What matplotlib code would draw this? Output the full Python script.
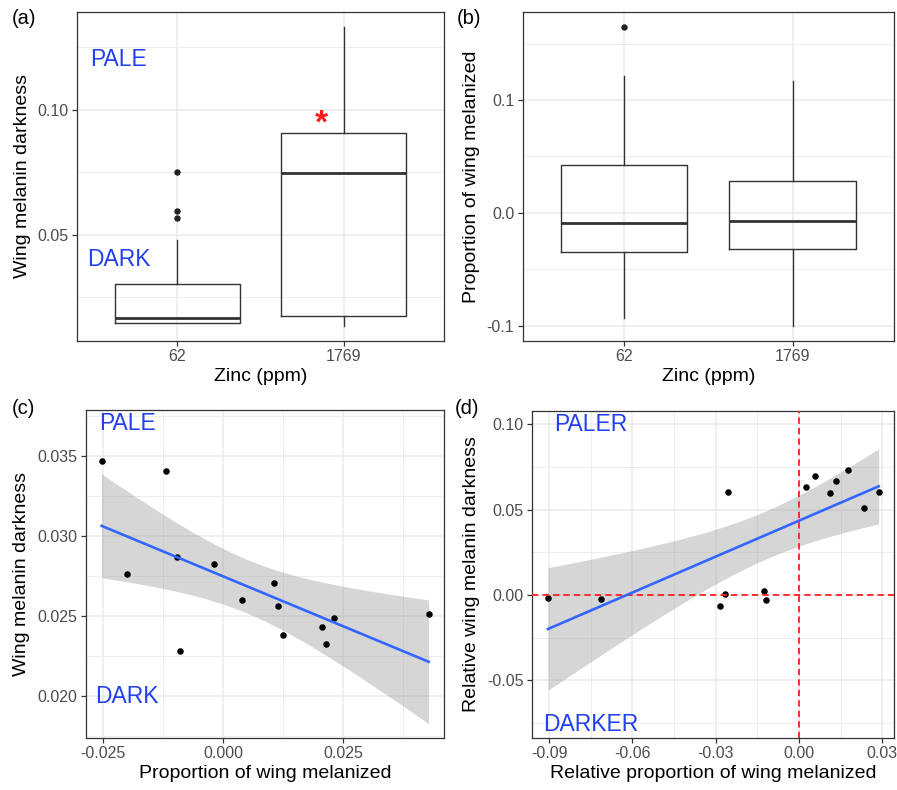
import numpy as np
import matplotlib
matplotlib.use("Agg")
import matplotlib.pyplot as plt
from matplotlib.ticker import FixedLocator

plt.rcParams['font.family'] = ['Liberation Sans', 'DejaVu Sans']

# ---------------- data ----------------
zinc_levels = ["62", "1769"]

# (a) wing melanin darkness box stats
a_q1 = [0.0149, 0.0175]
a_med = [0.0166, 0.0748]
a_q3 = [0.0303, 0.0908]
a_whislo = [0.0148, 0.0136]
a_whishi = [0.0480, 0.1333]
a_fliers = [[0.0751, 0.0597, 0.0567], []]

# (b) proportion of wing melanized box stats
b_q1 = [-0.0346, -0.0322]
b_med = [-0.0089, -0.0071]
b_q3 = [0.0426, 0.0278]
b_whislo = [-0.0936, -0.1000]
b_whishi = [0.1212, 0.1168]
b_fliers = [[0.1649], []]

# (c) scatter
c_x = [-0.02535, -0.01194, -0.02000, -0.00958, -0.00194, -0.00896, 0.00382,
       0.01049, 0.01146, 0.01243, 0.02049, 0.02132, 0.02313, 0.04278]
c_y = [0.03469, 0.03404, 0.02761, 0.02867, 0.02823, 0.02282, 0.02600,
       0.02707, 0.02567, 0.02384, 0.02434, 0.02328, 0.02488, 0.02517]

# (d) scatter
d_x = [-0.09045, -0.07135, -0.02859, -0.02655, -0.02546, -0.01249, -0.01201,
       0.00240, 0.00565, 0.01117, 0.01321, 0.01778, 0.02342, 0.02871]
d_y = [-0.00176, -0.00234, -0.00644, 0.00059, 0.06027, 0.00234, -0.00293,
       0.06340, 0.06984, 0.05989, 0.06672, 0.07335, 0.05091, 0.06027]

T975 = 2.1788  # t quantile, df = 12

# ---------------- style ----------------
GRID = '#EBEBEB'
DARK = '#333333'
TICKC = '#4D4D4D'
BLUE_TXT = '#2340F0'
LINE_BLUE = '#3366FF'
TICK_FS = 11.5
LAB_FS = 14
ANN_FS = 16.5

fig = plt.figure(figsize=(8.97, 7.9), dpi=100)


def style_axes(ax, xmaj, xmin, ymaj, ymin):
    ax.set_facecolor('white')
    for s in ax.spines.values():
        s.set_color(DARK)
        s.set_linewidth(0.9)
    ax.xaxis.set_major_locator(FixedLocator(xmaj))
    ax.yaxis.set_major_locator(FixedLocator(ymaj))
    for v in ymin:
        ax.axhline(v, color=GRID, lw=0.6, zorder=0)
    for v in xmin:
        ax.axvline(v, color=GRID, lw=0.6, zorder=0)
    for v in ymaj:
        ax.axhline(v, color=GRID, lw=1.1, zorder=0)
    for v in xmaj:
        ax.axvline(v, color=GRID, lw=1.1, zorder=0)
    ax.tick_params(axis='both', colors=DARK, labelcolor=TICKC, labelsize=TICK_FS,
                   length=3.5, width=0.9, pad=2.5)


def draw_box(ax, q1, med, q3, lo, hi, fl):
    stats = []
    for i in range(len(q1)):
        stats.append(dict(q1=q1[i], med=med[i], q3=q3[i], whislo=lo[i],
                          whishi=hi[i], fliers=fl[i]))
    ax.bxp(stats, positions=[1, 2], widths=0.75, showcaps=False,
           boxprops=dict(color=DARK, lw=1.0),
           whiskerprops=dict(color=DARK, lw=1.0),
           medianprops=dict(color=DARK, lw=2.0),
           flierprops=dict(marker='o', markerfacecolor='#222222',
                           markeredgecolor='#222222', markersize=3.6),
           zorder=3)
    ax.set_xticks([1, 2])
    ax.set_xticklabels(zinc_levels)
    ax.set_xlim(0.4, 2.6)


def draw_fit(ax, x, y):
    x = np.asarray(x); y = np.asarray(y)
    n = len(x)
    xm = x.mean()
    sxx = ((x - xm) ** 2).sum()
    b = ((x - xm) * (y - y.mean())).sum() / sxx
    a = y.mean() - b * xm
    resid = y - (a + b * x)
    s = np.sqrt((resid ** 2).sum() / (n - 2))
    xs = np.linspace(x.min(), x.max(), 100)
    fit = a + b * xs
    se = s * np.sqrt(1.0 / n + (xs - xm) ** 2 / sxx)
    ax.fill_between(xs, fit - T975 * se, fit + T975 * se, color='#999999',
                    alpha=0.4, lw=0, zorder=2)
    ax.plot(xs, fit, color=LINE_BLUE, lw=1.9, zorder=4)
    ax.scatter(x, y, s=22, color='black', zorder=3, lw=0)


# ---------------- (a) ----------------
axa = fig.add_axes([0.0858, 0.5684, 0.4092, 0.4165])
style_axes(axa, [1, 2], [], [0.05, 0.10], [0.025, 0.075, 0.125])
draw_box(axa, a_q1, a_med, a_q3, a_whislo, a_whishi, a_fliers)
axa.set_ylim(0.0076, 0.1392)
axa.set_xlabel('Zinc (ppm)', fontsize=LAB_FS, labelpad=3)
axa.set_ylabel('Wing melanin darkness', fontsize=LAB_FS, labelpad=5)
axa.text(0.65, 0.12, 'PALE', color=BLUE_TXT, fontsize=ANN_FS, ha='center', va='center')
axa.text(0.65, 0.04, 'DARK', color=BLUE_TXT, fontsize=ANN_FS, ha='center', va='center')
axa.text(1.865, 0.0945, '*', color='#FF1A1A', fontsize=24, ha='center', va='center',
         fontweight='bold')

# ---------------- (b) ----------------
axb = fig.add_axes([0.5827, 0.5684, 0.4140, 0.4165])
style_axes(axb, [1, 2], [], [-0.1, 0.0, 0.1], [-0.05, 0.05, 0.15])
draw_box(axb, b_q1, b_med, b_q3, b_whislo, b_whishi, b_fliers)
axb.set_ylim(-0.1136, 0.178)
axb.set_yticklabels(['-0.1', '0.0', '0.1'])
axb.set_xlabel('Zinc (ppm)', fontsize=LAB_FS, labelpad=3)
axb.set_ylabel('Proportion of wing melanized', fontsize=LAB_FS, labelpad=5)

# ---------------- (c) ----------------
axc = fig.add_axes([0.0955, 0.0662, 0.3998, 0.4148])
style_axes(axc, [-0.025, 0.0, 0.025], [-0.0125, 0.0125, 0.0375],
           [0.020, 0.025, 0.030, 0.035], [0.0175, 0.0225, 0.0275, 0.0325, 0.0375])
draw_fit(axc, c_x, c_y)
axc.set_xlim(-0.02867, 0.04604)
axc.set_ylim(0.01742, 0.03787)
axc.set_xticklabels(['-0.025', '0.000', '0.025'])
axc.set_yticklabels(['0.020', '0.025', '0.030', '0.035'])
axc.set_xlabel('Proportion of wing melanized', fontsize=LAB_FS, labelpad=3)
axc.set_ylabel('Wing melanin darkness', fontsize=LAB_FS, labelpad=5)
axc.text(-0.02, 0.037, 'PALE', color=BLUE_TXT, fontsize=ANN_FS, ha='center', va='center')
axc.text(-0.02, 0.020, 'DARK', color=BLUE_TXT, fontsize=ANN_FS, ha='center', va='center')

# ---------------- (d) ----------------
axd = fig.add_axes([0.5928, 0.0662, 0.4042, 0.4139])
style_axes(axd, [-0.09, -0.06, -0.03, 0.0, 0.03], [-0.075, -0.045, -0.015, 0.015],
           [-0.05, 0.0, 0.05, 0.10], [-0.075, -0.025, 0.025, 0.075])
axd.axhline(0, color='#FF1F1F', lw=1.3, ls=(0, (3.5, 2.3)), zorder=3.5)
axd.axvline(0, color='#FF1F1F', lw=1.3, ls=(0, (3.5, 2.3)), zorder=3.5)
draw_fit(axd, d_x, d_y)
axd.set_xlim(-0.0963, 0.03435)
axd.set_ylim(-0.0835, 0.1079)
axd.set_xticklabels(['-0.09', '-0.06', '-0.03', '0.00', '0.03'])
axd.set_yticklabels(['-0.05', '0.00', '0.05', '0.10'])
axd.set_xlabel('Relative proportion of wing melanized', fontsize=LAB_FS, labelpad=3)
axd.set_ylabel('Relative wing melanin darkness', fontsize=LAB_FS, labelpad=5)
axd.text(-0.075, 0.10, 'PALER', color=BLUE_TXT, fontsize=ANN_FS, ha='center', va='center')
axd.text(-0.075, -0.0757, 'DARKER', color=BLUE_TXT, fontsize=ANN_FS, ha='center', va='center')

# panel labels
fig.text(12 / 897, 1 - 19 / 790, '(a)', fontsize=14.5, va='center', ha='left')
fig.text(457 / 897, 1 - 19 / 790, '(b)', fontsize=14.5, va='center', ha='left')
fig.text(12 / 897, 1 - 408 / 790, '(c)', fontsize=14.5, va='center', ha='left')
fig.text(455 / 897, 1 - 408 / 790, '(d)', fontsize=14.5, va='center', ha='left')

fig.savefig('out.png', dpi=100, facecolor='white')
